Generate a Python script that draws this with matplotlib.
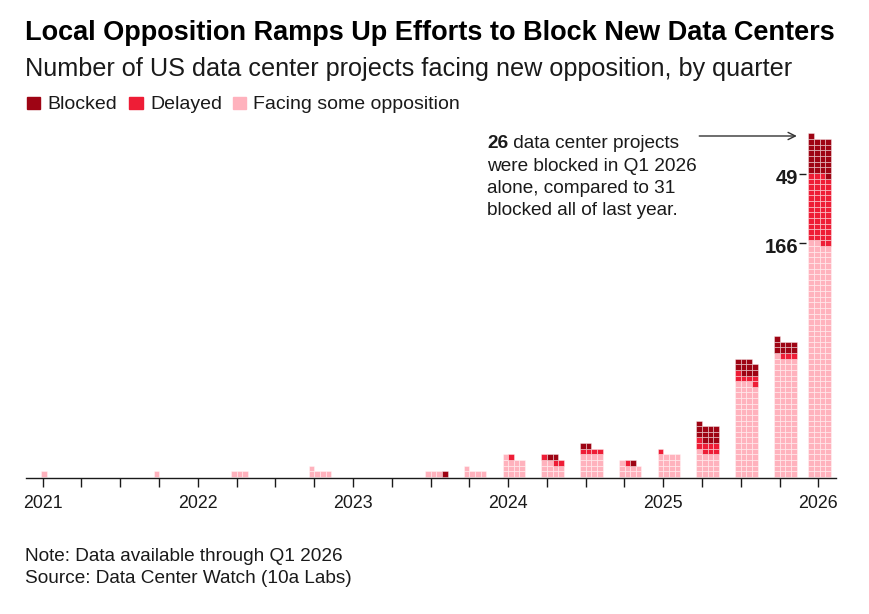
import numpy as np
import matplotlib
matplotlib.use("Agg")
import matplotlib.pyplot as plt
from matplotlib.patches import Rectangle

# ---------------- data ----------------
quarters = ["2021 Q1", "2021 Q2", "2021 Q3", "2021 Q4",
            "2022 Q1", "2022 Q2", "2022 Q3", "2022 Q4",
            "2023 Q1", "2023 Q2", "2023 Q3", "2023 Q4",
            "2024 Q1", "2024 Q2", "2024 Q3", "2024 Q4",
            "2025 Q1", "2025 Q2", "2025 Q3", "2025 Q4",
            "2026 Q1"]
facing = [1, 0, 0, 1, 0, 3, 0, 5, 0, 0, 3, 5, 13, 10, 16, 9, 16, 17, 67, 85, 166]
delayed = [0, 0, 0, 0, 0, 0, 0, 0, 0, 0, 0, 0, 1, 3, 4, 1, 1, 8, 6, 3, 49]
blocked = [0, 0, 0, 0, 0, 0, 0, 0, 0, 0, 1, 0, 0, 2, 2, 1, 0, 12, 10, 9, 26]
year_labels = ["2021", "2022", "2023", "2024", "2025", "2026"]

title = "Local Opposition Ramps Up Efforts to Block New Data Centers"
subtitle = "Number of US data center projects facing new opposition, by quarter"
legend_labels = ["Blocked", "Delayed", "Facing some opposition"]
note = "Note: Data available through Q1 2026"
source = "Source: Data Center Watch (10a Labs)"

# ---------------- style ----------------
C_BLOCKED = "#9e0414"
C_DELAYED = "#ee1d36"
C_FACING = "#ffb2bd"
INK = "#1a1a1a"

plt.rcParams['font.family'] = ['Liberation Sans', 'DejaVu Sans']

W, H = 870, 614
fig = plt.figure(figsize=(W / 100, H / 100), dpi=100)


def fx(px):
    return px / W


def fy(py):
    return 1 - py / H


# axes geometry (pixel-based layout)
AX_L, AX_R, AX_B, AX_T = 26, 836, 478.3, 120
QPX = 38.78      # px per quarter
TICK0 = 42.7     # px of first tick
SQ = 5.63        # px per square
cw = SQ / QPX    # square width in quarter units
ncols = 4

ax = fig.add_axes([fx(AX_L), fy(AX_B), fx(AX_R) - fx(AX_L), fy(AX_T) - fy(AX_B)])
ax.set_xlim((AX_L - TICK0) / QPX, (AX_R - TICK0) / QPX)
ybot = -0.25
ax.set_ylim(ybot, ybot + (AX_B - AX_T) / SQ)

# ---------------- waffle bars ----------------
xs, ys, cs = [], [], []
lefts = []
for i, (f, d, b) in enumerate(zip(facing, delayed, blocked)):
    left = float(np.clip(i - 0.142, -0.044, (len(quarters) - 1) + 0.327 - ncols * cw))
    lefts.append(left)
    cats = [C_FACING] * f + [C_DELAYED] * d + [C_BLOCKED] * b
    for k, c in enumerate(cats):
        xs.append(left + (k % ncols) * cw)
        ys.append(k // ncols)
        cs.append(c)

ax.bar(xs, 1, width=cw, bottom=ys, align='edge', color=cs,
       edgecolor=(1, 1, 1, 0.6), linewidth=0.45)

# ---------------- axes cosmetics ----------------
for s in ["top", "left", "right"]:
    ax.spines[s].set_visible(False)
ax.spines["bottom"].set_color(INK)
ax.spines["bottom"].set_linewidth(1.0)
ax.set_yticks([])
ax.set_xticks(range(len(quarters)))
ticklabels = []
yi = 0
for i in range(len(quarters)):
    if i % 4 == 0:
        ticklabels.append(year_labels[yi])
        yi += 1
    else:
        ticklabels.append("")
ax.set_xticklabels(ticklabels)
ax.tick_params(axis='x', length=6.2, width=1.0, color=INK, pad=5.5,
               labelsize=12.8, labelcolor=INK)

# ---------------- last-bar labels ----------------
last = len(quarters) - 1
ll = lefts[last]
levels = [((facing[last] + delayed[last]) / ncols, str(delayed[last])),
          (facing[last] / ncols, str(facing[last]))]
for lev, lab in levels:
    ax.plot([ll - 0.232, ll - 0.052], [lev, lev], color=INK, lw=1.0,
            clip_on=False, solid_capstyle='butt')
    ax.text(ll - 0.27, lev - 1.8, lab, ha='right', va='baseline',
            fontsize=14.5, fontweight='bold', color=INK)

# arrow
top_rows = int(np.ceil((facing[last] + delayed[last] + blocked[last]) / ncols))
ay = top_rows - 0.45
ax.annotate("", xy=(ll - 0.3, ay), xytext=(16.93, ay),
            arrowprops=dict(arrowstyle='->', color='#333333', lw=1.0,
                            shrinkA=0, shrinkB=0, mutation_scale=13))

# annotation text
ann_fs = 13.7
t26 = fig.text(fx(487), fy(148.3), str(blocked[last]), fontsize=ann_fs,
               fontweight='bold', va='baseline', color=INK)
fig.canvas.draw()
ax.annotate(" data center projects", xy=(1, 0), xycoords=t26,
            ha='left', va='bottom', fontsize=ann_fs, color=INK,
            annotation_clip=False)
ann_lines = ["were blocked in Q1 2026", "alone, compared to 31",
             "blocked all of last year."]
for j, line in enumerate(ann_lines):
    fig.text(fx(487), fy(148.3 + 22.3 * (j + 1)), line, fontsize=ann_fs,
             va='baseline', color=INK)

# ---------------- titles ----------------
fig.text(fx(25), fy(40), title, fontsize=19.55, fontweight='bold',
         va='baseline', color='black')
fig.text(fx(25), fy(76), subtitle, fontsize=18.2, va='baseline', color=INK)

# legend
leg_sq_x = [26.7, 129.3, 232.7]
leg_tx_x = [47.3, 150, 253.3]
leg_cols = [C_BLOCKED, C_DELAYED, C_FACING]
for sx, tx, col, lab in zip(leg_sq_x, leg_tx_x, leg_cols, legend_labels):
    fig.patches.append(Rectangle((fx(sx), fy(109.3)), 13.3 / W, 12.8 / H,
                                 transform=fig.transFigure, color=col))
    fig.text(fx(tx), fy(109.3), lab, fontsize=14, va='baseline', color=INK)

# notes
fig.text(fx(25), fy(561), note, fontsize=13.7, va='baseline', color=INK)
fig.text(fx(25), fy(583.3), source, fontsize=13.7, va='baseline', color=INK)

fig.savefig("out.png", dpi=100)
